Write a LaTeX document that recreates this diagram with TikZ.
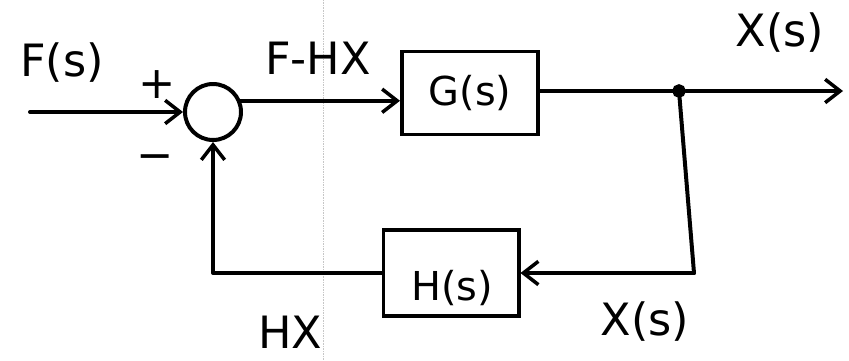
\documentclass[tikz,border=0pt]{standalone}
\usepackage{fontspec}
\setmainfont{DejaVu Sans}
\usetikzlibrary{arrows.meta,calc}
\begin{document}
\begin{tikzpicture}[x=0.03cm,y=-0.03cm,
  wire/.style={line width=3.4pt,line cap=round,line join=round},
  sig/.style={wire,-{Straight Barb[length=4.5mm,width=7mm,line width=3pt]}},
  blockbox/.style={draw,line width=3.4pt,rectangle,inner sep=0pt,font=\fontsize{34}{40}\selectfont},
  sumnode/.style={draw,line width=3.4pt,circle,minimum size=1.68cm,inner sep=0pt},
  tap/.style={draw,line width=2pt,circle,fill=black,minimum size=0.34cm,inner sep=0pt},
  lbl/.style={font=\fontsize{38}{44}\selectfont,inner sep=0pt}]
  % page frame
  \useasboundingbox (0,0) rectangle (849,360);
  % faint fold line of the sheet
  \draw[gray!45,line width=0.4pt,densely dotted] (323,0) -- (323,360);

  % blocks
  \node[sumnode] (sum) at (213,112) {};
  \node[blockbox,minimum width=4.08cm,minimum height=2.49cm] (G) at (470,93) {G(s)};
  \node[blockbox,minimum width=4.05cm,minimum height=2.6cm] (H) at (451,273) {};
  \node[font=\fontsize{34}{40}\selectfont,inner sep=0pt] (Hlab) at (452,288) {H(s)};
  \node[tap] (tap) at (679,91) {};

  % free ends
  \coordinate (in) at (30,112);
  \coordinate (out) at (843,91);
  \coordinate (c1) at (694,273);

  % forward path
  \draw[sig] (in) -- (sum.west);
  \draw[sig] (sum.22) -- (sum.22 -| G.west);
  \draw[wire] (G.east |- tap) -- (tap);
  \draw[sig] (tap) -- (out);

  % feedback path
  \draw[wire] (tap) -- (c1);
  \draw[sig] (c1) -- (H.east);
  \draw[sig] (H.west) -| (sum.south);

  % labels
  \node[lbl] (lF) at (62,63) {F(s)};
  \node[lbl] (lplus) at (157,85) {+};
  \node[lbl] (lminus) at (155,163) {−};
  \node[lbl] (lFHX) at (318,58) {F-HX};
  \node[lbl] (lXtop) at (780,33) {X(s)};
  \node[lbl] (lXbot) at (645,322) {X(s)};
  \node[lbl] (lHX) at (290,332) {HX};
\end{tikzpicture}
\end{document}
